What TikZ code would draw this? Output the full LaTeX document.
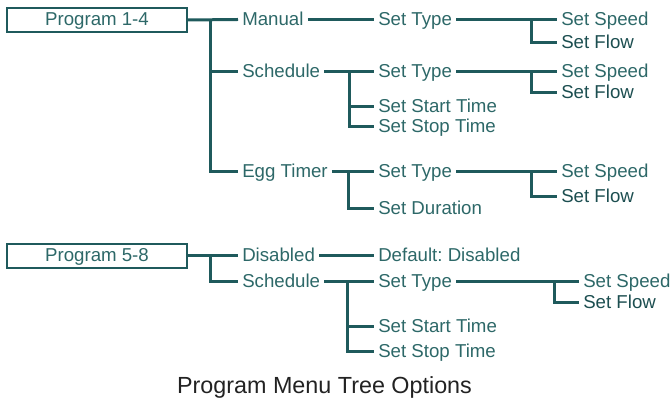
\documentclass[tikz,border=0pt]{standalone}
\usepackage{fontspec}
\setmainfont{Liberation Sans}
\frenchspacing
\definecolor{menuline}{RGB}{31,90,92}
\definecolor{menutext}{RGB}{45,104,104}
\definecolor{flowtext}{RGB}{28,78,80}

\tikzset{
  item/.style={anchor=west, inner sep=3pt, text height=10pt, text depth=1.5pt,
    font=\fontsize{14}{16}\selectfont, text=menutext},
  flow/.style={item, text=flowtext},
  progbox/.style={draw=menuline, line width=1.5pt, minimum width=135pt,
    minimum height=18pt, inner sep=0pt, text height=10pt, text depth=1.5pt,
    font=\fontsize{14}{16}\selectfont, text=menutext},
  branch/.style={draw=menuline, line width=2.25pt},
  caption/.style={anchor=base, font=\fontsize{17.5}{20}\selectfont, text={rgb,255:red,34;green,34;blue,34}}
}

\begin{document}
\begin{tikzpicture}[x=0.75pt,y=0.75pt,yscale=-1,xscale=1]
\useasboundingbox (0,0) rectangle (671,398);

% Program 1-4
\node [progbox] (p1) at (97,20) {Program 1-4};
\node [item] (man) at (238,19.5) {Manual};
\node [item] (sch1) at (238,72) {Schedule};
\node [item] (egg) at (238,171.5) {Egg Timer};
\coordinate (j1) at (210,19.5);
\draw [branch] (p1.east) -- (man.west);
\draw [branch] (j1) |- (sch1.west);
\draw [branch] (j1) |- (egg.west);

% Manual
\node [item] (ty1) at (374,19.5) {Set Type};
\node [item] (sp1) at (557,19.5) {Set Speed};
\node [flow] (fl1) at (557,43) {Set Flow};
\coordinate (k1) at (531,19.5);
\draw [branch] (man.east) -- (ty1.west);
\draw [branch] (ty1.east) -- (sp1.west);
\draw [branch] (k1) |- (fl1.west);

% Schedule
\node [item] (ty2) at (374,72) {Set Type};
\node [item] (sp2) at (557,72) {Set Speed};
\node [flow] (fl2) at (557,93) {Set Flow};
\node [item] (start2) at (374,107) {Set Start Time};
\node [item] (stop2) at (374,127) {Set Stop Time};
\coordinate (j2) at (349,72);
\coordinate (k2) at (531,72);
\draw [branch] (sch1.east) -- (ty2.west);
\draw [branch] (j2) |- (start2.west);
\draw [branch] (j2) |- (stop2.west);
\draw [branch] (ty2.east) -- (sp2.west);
\draw [branch] (k2) |- (fl2.west);

% Egg Timer
\node [item] (ty3) at (374,171.5) {Set Type};
\node [item] (sp3) at (557,171.5) {Set Speed};
\node [flow] (fl3) at (557,197) {Set Flow};
\node [item] (dur3) at (374,209) {Set Duration};
\coordinate (j3) at (348,171.5);
\coordinate (k3) at (531,171.5);
\draw [branch] (egg.east) -- (ty3.west);
\draw [branch] (j3) |- (dur3.west);
\draw [branch] (ty3.east) -- (sp3.west);
\draw [branch] (k3) |- (fl3.west);

% Program 5-8
\node [progbox] (p2) at (97,256) {Program 5-8};
\node [item] (dis) at (238,256) {Disabled};
\node [item] (sch2) at (238,281.5) {Schedule};
\node [item] (def) at (374,256) {Default: Disabled};
\coordinate (j4) at (210,256);
\draw [branch] (p2.east) -- (dis.west);
\draw [branch] (j4) |- (sch2.west);
\draw [branch] (dis.east) -- (def.west);

% Schedule 5-8
\node [item] (ty4) at (374,281.5) {Set Type};
\node [item] (sp4) at (579,281.5) {Set Speed};
\node [flow] (fl4) at (579,303) {Set Flow};
\node [item] (start4) at (374,327) {Set Start Time};
\node [item] (stop4) at (374,352) {Set Stop Time};
\coordinate (j5) at (347,281.5);
\coordinate (k4) at (554,281.5);
\draw [branch] (sch2.east) -- (ty4.west);
\draw [branch] (j5) |- (start4.west);
\draw [branch] (j5) |- (stop4.west);
\draw [branch] (ty4.east) -- (sp4.west);
\draw [branch] (k4) |- (fl4.west);

% Caption
\node [caption] (ttl) at (324.5,394) {Program Menu Tree Options};

\end{tikzpicture}
\end{document}
